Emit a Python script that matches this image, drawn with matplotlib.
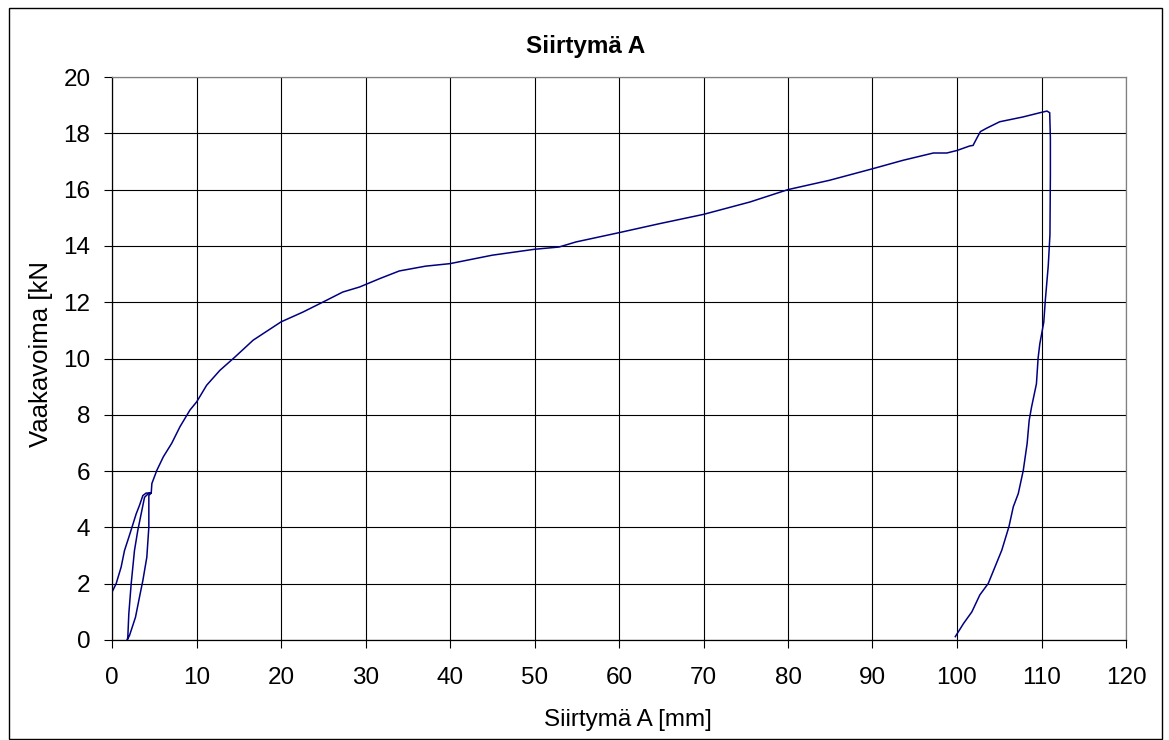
import matplotlib
matplotlib.use("Agg")
import matplotlib.pyplot as plt
from matplotlib.transforms import Bbox, TransformedBbox
from matplotlib.patches import Rectangle

plt.rcParams['font.family'] = ['Liberation Sans', 'DejaVu Sans']

# ---- data ----
# first loading up to the pre-load peak
load1_x = [0, 0, 0.49, 1.08, 1.48, 1.99, 2.39, 2.86, 3.25, 3.65, 4.04, 4.64]
load1_y = [0, 1.7, 2.0, 2.59, 3.18, 3.65, 4.03, 4.48, 4.78, 5.13, 5.22, 5.22]
# unloading after pre-load
unload1_x = [4.40, 4.36, 4.36, 4.12, 3.65, 3.25, 2.78, 2.07, 1.80]
unload1_y = [5.15, 5.13, 4.01, 2.94, 2.11, 1.52, 0.81, 0.16, 0.0]
# reloading
reload_x = [1.87, 1.99, 2.27, 2.66, 3.05, 3.45, 3.85, 4.30, 4.64]
reload_y = [0.10, 0.93, 2.00, 3.18, 3.89, 4.48, 5.07, 5.20, 5.22]
# main loading curve
main_x = [4.72, 5.31, 6.08, 7.07, 8.05, 9.23, 10.02, 11.2, 12.77, 14.54, 16.7,
          20.0, 22.6, 25.2, 27.3, 29.3, 31.7, 34.0, 37.1, 40.0, 45.0, 50.0,
          52.9, 54.9, 60.0, 64.8, 70.0, 75.5, 80.0, 84.9, 90.0, 93.6, 97.2,
          98.8, 100.0, 101.5, 101.9, 102.37, 102.77, 103.5, 105.05, 107.8,
          109.8, 110.65, 110.97]
main_y = [5.56, 6.03, 6.51, 6.99, 7.58, 8.17, 8.46, 9.05, 9.58, 10.05, 10.65,
          11.3, 11.65, 12.04, 12.36, 12.54, 12.84, 13.11, 13.28, 13.37, 13.67, 13.88,
          13.96, 14.14, 14.47, 14.79, 15.12, 15.56, 16.0, 16.33, 16.74, 17.04, 17.3,
          17.3, 17.39, 17.55, 17.57, 17.84, 18.06, 18.18, 18.41, 18.58,
          18.73, 18.79, 18.73]
# final unloading
unload2_x = [111.05, 111.05, 111.0, 110.8, 110.45, 110.27, 109.8, 109.6, 109.4,
             108.82, 108.54, 108.3, 107.84, 107.25, 106.66, 106.15, 105.3, 104.5,
             103.7, 102.7, 101.76, 100.78, 99.8]
unload2_y = [17.84, 16.5, 14.4, 13.3, 12.06, 11.29, 10.52, 10.02, 9.10,
             8.27, 7.80, 6.98, 6.02, 5.2, 4.73, 4.03, 3.19, 2.6,
             2.01, 1.6, 1.0, 0.59, 0.12]

x_all = load1_x + unload1_x + reload_x + main_x + unload2_x
y_all = load1_y + unload1_y + reload_y + main_y + unload2_y

x_ticks = list(range(0, 121, 10))
y_ticks = list(range(0, 21, 2))

title = "Siirtymä A"
xlabel = "Siirtymä A [mm]"
ylabel = "Vaakavoima [kN]"

# ---- figure ----
W, H = 1169, 740
fig = plt.figure(figsize=(W / 100, H / 100), dpi=100)
fs = 17.5

def fx(px):
    return px / W

def fy(py):
    return 1 - py / H

ax = fig.add_axes([fx(112), fy(640), fx(1126) - fx(112), fy(77) - fy(640)])
ax.plot(x_all, y_all, color='#000080', linewidth=1.1, solid_joinstyle='miter')

ax.set_xlim(0, 120)
ax.set_ylim(0, 20)
ax.set_xticks(x_ticks)
ax.set_yticks(y_ticks)
ax.grid(True, color='black', linewidth=0.8)
ax.set_axisbelow(True)
ax.tick_params(axis='both', direction='out', length=5.5, width=0.8,
               color='black', labelsize=fs)
ax.tick_params(axis='x', pad=14)
ax.tick_params(axis='y', pad=10)
for s in ['left', 'bottom']:
    ax.spines[s].set_color('black')
    ax.spines[s].set_linewidth(0.9)
for s in ['top', 'right']:
    ax.spines[s].set_color('#808080')
    ax.spines[s].set_linewidth(0.9)

fig.text(fx(586), fy(52.7), title, ha='center', va='baseline',
         fontsize=fs, fontweight='bold')
fig.text(fx(628), fy(720), xlabel, ha='center', va='center', fontsize=fs)
yl = fig.text(fx(41), fy(350), ylabel, ha='center', va='center',
              rotation=90, fontsize=18.5)
yl.set_clip_box(TransformedBbox(Bbox([[0, 0], [1, fy(262)]]), fig.transFigure))
yl.set_clip_on(True)

# outer chart border
fig.patches.append(Rectangle((fx(9), fy(739)), fx(1162) - fx(9), fy(8) - fy(739),
                             transform=fig.transFigure, fill=False,
                             edgecolor='black', linewidth=1.0))

fig.savefig("out.png", dpi=100)
